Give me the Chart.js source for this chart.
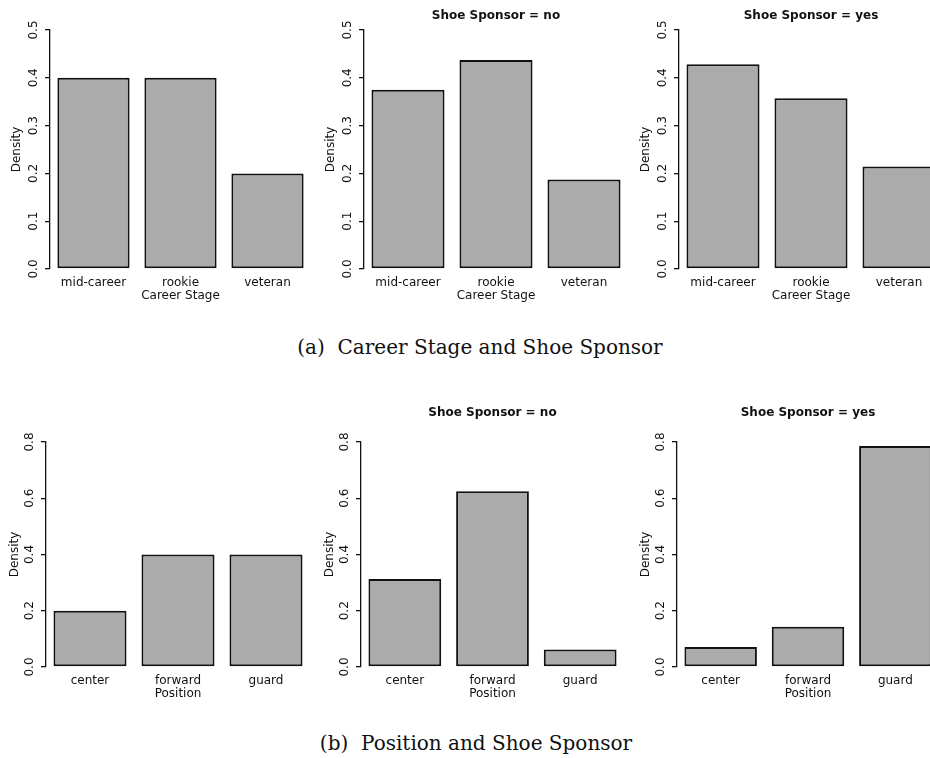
<!DOCTYPE html>
<html>
  <head>
    <style>
      body {
        margin: 0;
        background: #fff;
        overflow: hidden;
        width: 930px;
        height: 758px;
        position: relative;
      }
      canvas {
        position: absolute;
      }
      .caption {
        position: absolute;
        transform: translateX(-50%);
        white-space: nowrap;
        font-family: "DejaVu Serif", serif;
        font-size: 20px;
        line-height: 24px;
        color: #111;
      }
    </style>
  </head>
  <body>
    <canvas id="c1" width="311" height="303" style="left:0px;top:0px"></canvas>
    <canvas id="c2" width="314" height="303" style="left:314px;top:0px"></canvas>
    <canvas id="c3" width="314" height="303" style="left:629px;top:0px"></canvas>
    <div class="caption" style="left:480px;top:335px">(a)&nbsp; Career Stage and Shoe Sponsor</div>

    <canvas id="c4" width="310" height="311" style="left:0px;top:390px"></canvas>
    <canvas id="c5" width="309" height="311" style="left:315px;top:390px"></canvas>
    <canvas id="c6" width="308" height="311" style="left:631px;top:390px"></canvas>
    <div class="caption" style="left:476px;top:731px">(b)&nbsp; Position and Shoe Sponsor</div>

    <script src="https://cdn.jsdelivr.net/npm/chart.js"></script>
    <script>
      // densities
      const careerStages = ["mid-career", "rookie", "veteran"];
      const careerAll = [0.4, 0.4, 0.2];
      const careerSponsorNo = [0.375, 0.4375, 0.1875];
      const careerSponsorYes = [0.4286, 0.3571, 0.2143];

      const positions = ["center", "forward", "guard"];
      const positionAll = [0.2, 0.4, 0.4];
      const positionSponsorNo = [0.3125, 0.625, 0.0625];
      const positionSponsorYes = [0.0714, 0.1429, 0.7857];

      const careerTicks = [0, 0.1, 0.2, 0.3, 0.4, 0.5];
      const positionTicks = [0, 0.2, 0.4, 0.6, 0.8];

      Chart.defaults.font.family = "'DejaVu Sans', sans-serif";
      Chart.defaults.font.size = 12;
      Chart.defaults.color = "#111";

      function panel(id, labels, values, o) {
        const ticks = o.ticks;
        return new Chart(document.getElementById(id), {
          type: "bar",
          data: {
            labels: labels,
            datasets: [{
              data: values,
              backgroundColor: "#ababab",
              borderColor: "#111",
              borderWidth: 2,
              borderSkipped: false,
              categoryPercentage: 1,
              barPercentage: 0.83
            }]
          },
          options: {
            responsive: false,
            animation: false,
            events: [],
            layout: { padding: { top: o.title ? 0 : o.top, left: 0, right: 0, bottom: 0 } },
            plugins: {
              legend: { display: false },
              tooltip: { enabled: false },
              title: {
                display: !!o.title,
                text: o.title || "",
                fullSize: false,
                font: { size: 12, weight: "bold" },
                padding: { top: o.titleTop, bottom: o.top - o.titleTop - 14.4 }
              }
            },
            scales: {
              x: {
                grid: { display: false },
                border: { display: false },
                ticks: { padding: -1 },
                title: { display: true, text: o.xTitle, padding: 0 },
                afterFit: function (scale) { scale.height = 34; }
              },
              y: {
                min: 0,
                max: ticks[ticks.length - 1],
                afterBuildTicks: function (scale) {
                  scale.ticks = ticks.map(function (v) { return { value: v }; });
                },
                grid: { drawOnChartArea: false, drawTicks: true, tickLength: 5, color: "#111", lineWidth: 1.3 },
                border: { display: true, color: "#111", width: 1.3 },
                ticks: {
                  minRotation: 90,
                  maxRotation: 90,
                  crossAlign: "center",
                  padding: 1.5,
                  callback: function (v) { return Number(v).toFixed(1); }
                },
                title: { display: true, text: "Density", padding: { top: o.densityPad, bottom: 0 } },
                afterFit: function (scale) { scale.width = o.axisW; }
              }
            }
          }
        });
      }

      const top1 = { ticks: careerTicks, xTitle: "Career Stage", top: 30, titleTop: 8.8, axisW: 50, densityPad: 9.8 };
      const top2 = { ticks: positionTicks, xTitle: "Position", top: 52, titleTop: 15.8, axisW: 46, densityPad: 7.8 };

      panel("c1", careerStages, careerAll, Object.assign({}, top1));
      panel("c2", careerStages, careerSponsorNo, Object.assign({}, top1, { title: "Shoe Sponsor = no" }));
      panel("c3", careerStages, careerSponsorYes, Object.assign({}, top1, { title: "Shoe Sponsor = yes" }));

      panel("c4", positions, positionAll, Object.assign({}, top2));
      panel("c5", positions, positionSponsorNo, Object.assign({}, top2, { title: "Shoe Sponsor = no" }));
      panel("c6", positions, positionSponsorYes, Object.assign({}, top2, { title: "Shoe Sponsor = yes" }));
    </script>
  </body>
</html>
